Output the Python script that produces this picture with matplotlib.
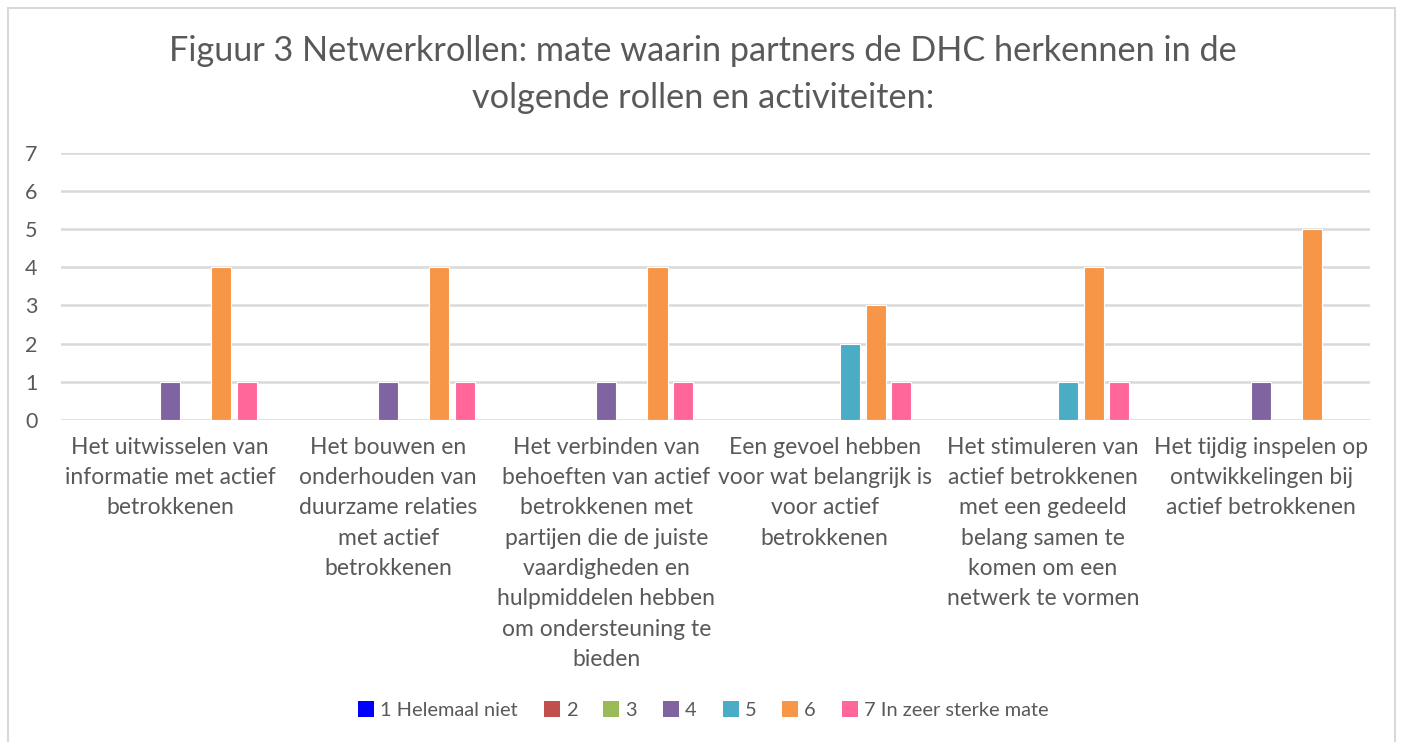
import matplotlib.pyplot as plt
import numpy as np
from matplotlib.patches import Rectangle, Patch

categories = [
    "Het uitwisselen van\ninformatie met actief\nbetrokkenen",
    "Het bouwen en\nonderhouden van\nduurzame relaties\nmet actief\nbetrokkenen",
    "Het verbinden van\nbehoeften van actief\nbetrokkenen met\npartijen die de juiste\nvaardigheden en\nhulpmiddelen hebben\nom ondersteuning te\nbieden",
    "Een gevoel hebben\nvoor wat belangrijk is\nvoor actief\nbetrokkenen",
    "Het stimuleren van\nactief betrokkenen\nmet een gedeeld\nbelang samen te\nkomen om een\nnetwerk te vormen",
    "Het tijdig inspelen op\nontwikkelingen bij\nactief betrokkenen",
]
series_names = ["1 Helemaal niet", "2", "3", "4", "5", "6", "7 In zeer sterke mate"]
s1 = [0, 0, 0, 0, 0, 0]
s2 = [0, 0, 0, 0, 0, 0]
s3 = [0, 0, 0, 0, 0, 0]
s4 = [1, 1, 1, 0, 0, 1]
s5 = [0, 0, 0, 2, 1, 0]
s6 = [4, 4, 4, 3, 4, 5]
s7 = [1, 1, 1, 1, 1, 0]
values = [s1, s2, s3, s4, s5, s6, s7]
colors = ["#0000FF", "#C0504D", "#9BBB59", "#8064A2", "#4BACC6", "#F79646", "#FF6699"]

plt.rcParams['font.family'] = ['Lato', 'DejaVu Sans']
txt = "#595959"

fig = plt.figure(figsize=(14.01, 7.42), dpi=100)
fig.patches.append(Rectangle((0.006, -0.01), 0.99, 0.999, transform=fig.transFigure,
                             fill=False, edgecolor="#D9D9D9", linewidth=1.5))
ax = fig.add_axes([0.0435, 0.434, 0.9345, 0.360])

x = np.arange(len(categories))
step = 0.117
width = 0.092
for i, (vals, c) in enumerate(zip(values, colors)):
    ax.bar(x + (i - 3) * step, vals, width, color=c, edgecolor="white", linewidth=0.8, zorder=3)

ax.set_xlim(-0.5, len(categories) - 0.5)
ax.set_ylim(0, 7)
ax.set_yticks(range(8))
ax.yaxis.grid(True, color="#D9D9D9", linewidth=1.8, zorder=0)
for s in ax.spines.values():
    s.set_visible(False)
ax.tick_params(axis='y', length=0, labelsize=15.5, labelcolor=txt, pad=17)
ax.tick_params(axis='x', length=0, labelsize=16.5, labelcolor=txt, pad=12)
ax.set_xticks(x)
ax.set_xticklabels(categories, linespacing=1.55, va='top')

fig.text(0.502, 0.899, "Figuur 3 Netwerkrollen: mate waarin partners de DHC herkennen in de\nvolgende rollen en activiteiten:",
         ha='center', va='center', fontsize=24.7, color=txt, linespacing=1.58)

handles = [Patch(facecolor=c, edgecolor='none') for c in colors]
fig.legend(handles, series_names, loc='center', bbox_to_anchor=(0.502, 0.043), ncol=7,
           frameon=False, fontsize=14.4, labelcolor=txt, handlelength=0.8, handleheight=0.8,
           handletextpad=0.3, columnspacing=1.3)

fig.savefig("out.png", dpi=100)
